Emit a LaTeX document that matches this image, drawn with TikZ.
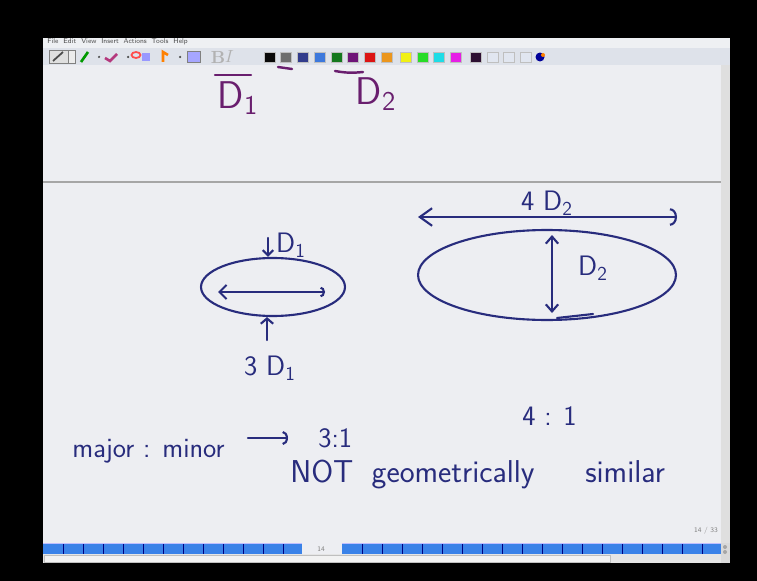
\documentclass[tikz,border=0pt]{standalone}
\usetikzlibrary{arrows.meta,shapes.geometric,positioning}

\definecolor{ink}{RGB}{40,44,125}
\definecolor{purpink}{RGB}{105,30,110}
\definecolor{canvasbg}{RGB}{237,238,242}
\definecolor{toolbg}{RGB}{222,226,234}
\definecolor{menubg}{RGB}{238,240,243}
\definecolor{pagebar}{RGB}{58,130,232}
\definecolor{swA}{RGB}{10,10,10}
\definecolor{swB}{RGB}{110,110,110}
\definecolor{swC}{RGB}{50,60,140}
\definecolor{swD}{RGB}{60,120,220}
\definecolor{swE}{RGB}{20,120,30}
\definecolor{swF}{RGB}{110,20,120}
\definecolor{swG}{RGB}{220,20,20}
\definecolor{swH}{RGB}{235,150,30}
\definecolor{swI}{RGB}{240,240,20}
\definecolor{swJ}{RGB}{40,220,40}
\definecolor{swK}{RGB}{30,220,230}
\definecolor{swL}{RGB}{230,30,230}
\definecolor{swM}{RGB}{45,15,50}
\definecolor{swN}{RGB}{225,230,240}

\begin{document}
\begin{tikzpicture}[x=0.02cm, y=-0.02cm,
  hand/.style={text=ink, font=\sffamily\fontsize{16}{19}\selectfont, inner sep=0pt},
  bighand/.style={hand, font=\sffamily\fontsize{18}{21}\selectfont},
  purphand/.style={text=purpink, font=\sffamily\fontsize{22}{26}\selectfont, inner sep=0pt},
  stroke/.style={draw=ink, line width=1.2pt, line cap=round},
  purpstroke/.style={draw=purpink, line width=1.4pt, line cap=round},
  bubble/.style={ellipse, draw=ink, line width=1.2pt, inner sep=0pt},
  swatch/.style={minimum width=0.22cm, minimum height=0.2cm, inner sep=0pt, draw=gray!50},
  tiny/.style={font=\sffamily\fontsize{4}{5}\selectfont, inner sep=0pt},
]
\useasboundingbox (0,0) rectangle (757,581);

% ── Screen and window ─────────────────────────────────────────────────
\fill[black] (0,0) rectangle (757,581);
\fill[menubg] (43,38) rectangle (730,48);
\fill[toolbg] (43,48) rectangle (730,65);
\fill[canvasbg] (43,65) rectangle (721,554);
\fill[gray!25] (721,65) rectangle (730,543);
\draw[gray!70, line width=1.5pt] (43,182) -- (721,182);

% ── Menu and toolbar ──────────────────────────────────────────────────
\node[tiny, anchor=west, text=black!70] (menu) at (47,42)
  {File\ \ Edit\ \ View\ \ Insert\ \ Actions\ \ Tools\ \ Help};
\draw[gray, fill=gray!25] (49,50) rectangle (68,63);
\draw[black!70, line width=1pt] (53,61) -- (63,52);
\draw[gray, fill=gray!15] (68,50) rectangle (75,63);
\draw[green!60!black, line width=1.5pt] (81,62) -- (88,52);
\draw[magenta!70!black, line width=1.5pt] (105,58) -- (110,61) -- (117,54);
\draw[red!70, line width=1pt] (136,55) ellipse [x radius=0.09cm, y radius=0.06cm];
\fill[blue!40] (142,53) rectangle (150,61);
\draw[orange, line width=1.5pt] (163,62) -- (163,52) -- (168,55);
\draw[gray, fill=blue!35] (187,51) rectangle (200,62);
\foreach \xx in {99,128,180} \fill[black!70] (\xx,57) circle (0.025cm);
\node[text=gray!60, font=\bfseries\fontsize{10}{10}\selectfont, inner sep=0pt] (bold) at (218,57) {B};
\node[text=gray!60, font=\itshape\fontsize{10}{10}\selectfont, inner sep=0pt] (ital) at (228,57) {I};
\foreach \xx/\cc [count=\i] in {264/swA, 280/swB, 297/swC, 314/swD, 331/swE, 347/swF,
    364/swG, 381/swH, 400/swI, 417/swJ, 433/swK, 450/swL, 470/swM, 487/swN, 503/swN, 520/swN}
  \node[swatch, fill=\cc] (sw\i) at (\xx+5.5,57) {};
\fill[blue!60!black] (540,57) circle (0.09cm);
\fill[orange] (543,55) circle (0.04cm);

% ── Top: leftover purple strokes ──────────────────────────────────────
\draw[purpstroke] (215,75) -- (251,75);
\draw[purpstroke] (278,67) -- (292,69);
\draw[purpstroke] (335,71) to[bend right=8] (363,72);
\node[purphand] (topD1) at (238,98) {D\textsubscript{1}};
\node[purphand] (topD2) at (376,94) {D\textsubscript{2}};

% ── Left: small ellipse ───────────────────────────────────────────────
\node[bubble, minimum width=2.88cm, minimum height=1.16cm] (E1) at (273,287) {};
\node[hand] (labD1) at (291,245) {D\textsubscript{1}};
\node[hand] (lab3D1) at (270,368) {3 D\textsubscript{1}};
\coordinate (d1top) at (268,238);
\coordinate (d1bot) at (267,340);
\coordinate (a1l) at (218,292);
\coordinate (a1r) at (325,292);
\draw[stroke, -{Straight Barb[length=3pt,width=6pt]}] (d1top) -- (d1top |- E1.north);
\draw[stroke, -{Straight Barb[length=3pt,width=7pt]}] (d1bot) -- (d1bot |- E1.south);
\draw[stroke, {Straight Barb[length=4pt,width=8pt]}-{Arc Barb[length=2.5pt,width=6pt]}] (a1l) -- (a1r);

% ── Right: big ellipse ────────────────────────────────────────────────
\node[bubble, minimum width=5.16cm, minimum height=1.8cm] (E2) at (547,275) {};
\node[hand] (lab4D2) at (547,203) {4 D\textsubscript{2}};
\node[hand] (labD2) at (593,268) {D\textsubscript{2}};
\coordinate (a2l) at (418,217);
\coordinate (a2r) at (677,217);
\coordinate (v2t) at (552,235);
\coordinate (v2b) at (552,313);
\draw[stroke, {Straight Barb[length=7pt,width=10pt]}-{Arc Barb[length=4pt,width=10pt]}] (a2l) -- (a2r);
\draw[stroke, {Straight Barb[length=4pt,width=7pt]}-{Straight Barb[length=4pt,width=7pt]}] (v2t) -- (v2b);
\draw[stroke] (557,318) -- (593,314);

% ── Bottom: ratios ────────────────────────────────────────────────────
\node[hand, anchor=base west] (ratio) at (72,457) {major : minor};
\node[hand, anchor=base west] (r31) at (318,447) {3:1};
\node[hand, anchor=base west] (r41) at (522,425) {4 : 1};
\coordinate (arrL) at (248,438);
\coordinate (arrR) at (288,438);
\draw[stroke, -{Arc Barb[length=3pt,width=8pt]}] (arrL) -- (arrR);
\node[bighand, anchor=base west] (notw) at (290,482) {NOT};
\node[bighand, base right=0.35cm of notw] (geo) {geometrically};
\node[bighand, base right=1cm of geo] (sim) {similar};

% ── Page bar and scrollbar ────────────────────────────────────────────
\fill[pagebar] (43,543) rectangle (302,554);
\fill[pagebar] (342,543) rectangle (721,554);
\draw[blue!25, line width=0.6pt] (43,543.5) -- (302,543.5) (342,543.5) -- (721,543.5);
\foreach \xx in {63,83,...,283} \draw[blue!50!black, line width=0.5pt] (\xx,544) -- (\xx,554);
\foreach \xx in {362,382,...,702} \draw[blue!50!black, line width=0.5pt] (\xx,544) -- (\xx,554);
\node[tiny, text=gray] (pgcur) at (321,549) {14};
\node[tiny, text=gray] (pgno) at (706,531) {14 / 33};
\fill[gray!20] (43,554) rectangle (721,563);
\draw[gray!50, fill=gray!10] (44,555) rectangle (610,562);
\fill[gray!30] (721,543) rectangle (730,563);
\fill[gray!70] (725,547) circle (0.04cm) (725,552) circle (0.04cm);
\end{tikzpicture}
\end{document}
